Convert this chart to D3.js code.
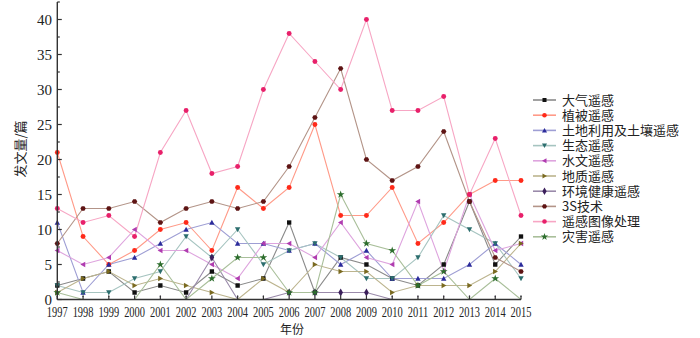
<!DOCTYPE html>
<html>
<head>
<meta charset="utf-8">
<script src="https://cdn.jsdelivr.net/npm/d3@7"></script>
<style>
html,body{margin:0;padding:0;background:#fff;}
svg{display:block;}
</style>
</head>
<body>
<svg id="chart" width="700" height="338"></svg>
<script>
const years = [1997,1998,1999,2000,2001,2002,2003,2004,2005,2006,2007,2008,2009,2010,2011,2012,2013,2014,2015];
const seriesNames = ["大气遥感","植被遥感","土地利用及土壤遥感","生态遥感","水文遥感","地质遥感","环境健康遥感","3S技术","遥感图像处理","灾害遥感"];
const daqi      = [2,3,4,1,2,1,4,2,3,11,1,6,5,3,2,5,14,5,9];
const zhibei    = [21,9,5,7,10,11,7,16,13,16,25,12,12,16,8,11,15,17,17];
const tudi      = [11,1,5,6,8,10,11,8,8,7,8,5,7,3,3,3,5,8,5];
const shengtai  = [2,1,1,3,4,9,6,10,5,7,8,6,3,3,6,12,10,8,3];
const shuiwen   = [7,5,6,10,7,7,5,3,8,8,6,11,6,5,14,4,15,7,8];
const dizhi     = [1,3,4,2,3,2,1,0,3,1,5,4,4,1,2,2,2,4,8];
const huanjing  = [0,0,0,0,0,0,6,0,0,1,1,1,1,0,0,0,0,0,0];
const jishu3s   = [8,13,13,14,11,13,14,13,14,19,26,33,20,17,19,24,14,6,4];
const tuxiang   = [13,11,12,9,21,27,18,19,30,38,34,30,40,27,27,29,15,23,12];
const zaihai    = [1,0,0,0,5,0,3,6,6,1,1,15,8,7,2,4,0,3,0];
const yTicks = [0,5,10,15,20,25,30,35,40];
const yTitle = "发文量/篇";
const xTitle = "年份";

const seriesValues = [daqi, zhibei, tudi, shengtai, shuiwen, dizhi, huanjing, jishu3s, tuxiang, zaihai];
const markerColors = ["#111111","#ff2a1a","#2b2b9b","#2c6e6e","#b03cb0","#7a6a20","#3b1f5b","#5e1414","#e8206a","#2d6e2d"];
const lineColors   = ["#8a8a8a","#ff9a88","#9e9ed4","#a6c4c0","#dea4de","#bcb48e","#9a8aaa","#b39488","#f7a6c4","#a9bf9a"];
const shapes = [d3.symbolSquare, d3.symbolCircle, "up", "down", "left", "right", d3.symbolDiamond, "hex", d3.symbolCircle, d3.symbolStar];

const svg = d3.select("#chart");
const x = d3.scaleLinear().domain([1997, 2015]).range([57.3, 521]);
const y = d3.scaleLinear().domain([0, 42.5]).range([299.5, 2]);

function markerPath(shape, r) {
  if (typeof shape !== "string") {
    return d3.symbol().type(shape).size(r*r*2.6)();
  }
  let pts;
  if (shape === "up") pts = [[0,-r],[r,r*0.8],[-r,r*0.8]];
  else if (shape === "down") pts = [[0,r],[r,-r*0.8],[-r,-r*0.8]];
  else if (shape === "left") pts = [[-r,0],[r*0.8,-r],[r*0.8,r]];
  else if (shape === "right") pts = [[r,0],[-r*0.8,-r],[-r*0.8,r]];
  else if (shape === "hex") pts = d3.range(6).map(i => [r*Math.cos(Math.PI/3*i), r*Math.sin(Math.PI/3*i)]);
  return "M" + pts.map(p => p.join(",")).join("L") + "Z";
}

const defs = svg.append("defs");
defs.append("clipPath").attr("id", "clipLines").append("rect")
  .attr("x", x(1997)).attr("y", 0).attr("width", x(2015) - x(1997) + 6).attr("height", y(0));
defs.append("clipPath").attr("id", "clipMarks").append("rect")
  .attr("x", x(1997) - 6).attr("y", 0).attr("width", x(2015) - x(1997) + 12).attr("height", y(0) - 2.7);

// series
const line = d3.line().x((d, i) => x(years[i])).y(d => y(d));
const linesG = svg.append("g").attr("clip-path", "url(#clipLines)");
seriesValues.forEach((vals, si) => {
  linesG.append("path").attr("d", line(vals)).attr("fill", "none")
    .attr("stroke", lineColors[si]).attr("stroke-width", 1.1);
});
const marksG = svg.append("g").attr("clip-path", "url(#clipMarks)");
seriesValues.forEach((vals, si) => {
  marksG.append("g").selectAll("path").data(vals).enter().append("path")
    .attr("transform", (d, i) => `translate(${x(years[i])},${y(d)})`)
    .attr("d", markerPath(shapes[si], 2.7)).attr("fill", markerColors[si]);
});

// axes
const gY = svg.append("g");
gY.append("line").attr("x1", x(1997)).attr("x2", x(1997)).attr("y1", y(42.5)).attr("y2", y(0))
  .attr("stroke", "#333").attr("stroke-width", 1.4);
d3.range(0, 42.6, 2.5).forEach(v => {
  const major = v % 5 === 0;
  gY.append("line").attr("x1", x(1997)).attr("x2", x(1997) + (major ? 4.5 : 2.5))
    .attr("y1", y(v)).attr("y2", y(v)).attr("stroke", "#333").attr("stroke-width", 1.2);
});
gY.selectAll("text.yt").data(yTicks).enter().append("text")
  .attr("x", 52).attr("y", d => y(d)).attr("dy", "0.35em")
  .attr("text-anchor", "end").attr("font-family", "Liberation Serif, Times New Roman, serif")
  .attr("font-size", 15).attr("fill", "#222").text(d => d);

const gX = svg.append("g");
gX.append("line").attr("x1", x(1997)).attr("x2", x(2015)).attr("y1", y(0)).attr("y2", y(0))
  .attr("stroke", "#333").attr("stroke-width", 1.4);
years.forEach(yr => {
  gX.append("line").attr("x1", x(yr)).attr("x2", x(yr)).attr("y1", y(0)).attr("y2", y(0) - 4)
    .attr("stroke", "#333").attr("stroke-width", 1.2);
});
gX.selectAll("text.xt").data(years).enter().append("text")
  .attr("transform", d => `translate(${x(d)},317.3) scale(0.72,1)`)
  .attr("text-anchor", "middle")
  .attr("font-family", "Liberation Serif, Times New Roman, serif").attr("font-size", 14.5)
  .attr("fill", "#222").text(d => d);

svg.append("text").attr("transform", "translate(25,149) rotate(-90)")
  .attr("text-anchor", "middle").attr("font-family", "Noto Sans CJK SC, sans-serif")
  .attr("font-size", 13).attr("fill", "#222").text(yTitle);
svg.append("text").attr("x", 292).attr("y", 334.3)
  .attr("text-anchor", "middle").attr("font-family", "Noto Sans CJK SC, sans-serif")
  .attr("font-size", 12).attr("fill", "#222").text(xTitle);

// legend
const lg = svg.append("g");
seriesNames.forEach((name, i) => {
  const cy = 100 + i * 15.2;
  lg.append("line").attr("x1", 533).attr("x2", 556).attr("y1", cy).attr("y2", cy)
    .attr("stroke", lineColors[i]).attr("stroke-width", 1.6);
  lg.append("path").attr("transform", `translate(544.5,${cy})`)
    .attr("d", markerPath(shapes[i], 2.5)).attr("fill", markerColors[i]);
  lg.append("text").attr("x", 562).attr("y", cy).attr("dy", "0.36em")
    .attr("font-family", "Noto Sans CJK SC, sans-serif").attr("font-size", 13)
    .attr("fill", "#222").text(name);
});
</script>
</body>
</html>
